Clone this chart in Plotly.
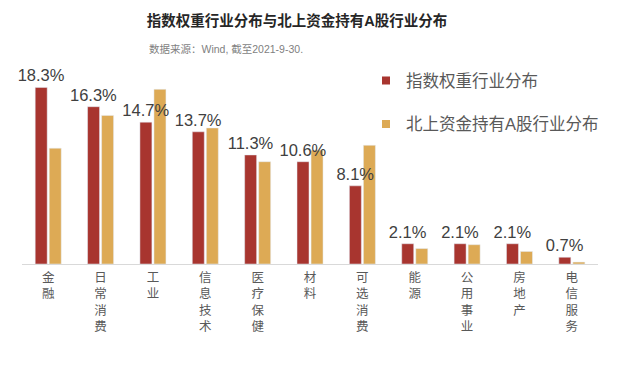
import plotly.graph_objects as go

categories = ["金融", "日常消费", "工业", "信息技术", "医疗保健", "材料", "可选消费", "能源", "公用事业", "房地产", "电信服务"]
index_weight = [18.3, 16.3, 14.7, 13.7, 11.3, 10.6, 8.1, 2.1, 2.1, 2.1, 0.7]
northbound = [12.0, 15.4, 18.1, 14.1, 10.6, 11.8, 12.3, 1.6, 2.0, 1.3, 0.2]
series_names = ["指数权重行业分布", "北上资金持有A股行业分布"]
title_text = "指数权重行业分布与北上资金持有A股行业分布"
subtitle_text = "数据来源：Wind, 截至2021-9-30."

RED = "#A8352F"
GOLD = "#DDAA55"
FONT = "Liberation Sans, Noto Sans CJK SC, sans-serif"

tick_text = ["<br>".join(list(c)) for c in categories]

fig = go.Figure()
# gold first so that the red series' value labels are drawn on top
fig.add_trace(go.Bar(
    x=categories, y=northbound, name=series_names[1],
    marker=dict(color=GOLD), showlegend=False, cliponaxis=False,
    offset=0.02, width=0.229,
))
fig.add_trace(go.Bar(
    x=categories, y=index_weight, name=series_names[0],
    marker=dict(color=RED), showlegend=False,
    offset=-0.248, width=0.229,
    text=[f"{v:.1f}%" for v in index_weight], textposition="outside",
    textfont=dict(size=16.5, color="#404040", family=FONT),
    constraintext="none", cliponaxis=False,
))
# legend entries with small square symbols
for i, (name, col) in enumerate(zip(series_names, [RED, GOLD])):
    fig.add_trace(go.Scatter(
        x=[None], y=[None], mode="markers", name=name, legendgroup=f"g{i}",
        marker=dict(symbol="square", size=8, color=col),
    ))

fig.update_layout(
    width=640, height=376,
    margin=dict(l=22, r=42, t=71, b=112, autoexpand=False),
    paper_bgcolor="white", plot_bgcolor="white",
    barmode="overlay",
    font=dict(family=FONT, color="#595959"),
    title=dict(text=f"<b>{title_text}</b>", x=297/640, xanchor="center",
               y=1 - 21/376, yanchor="middle", yref="container",
               font=dict(size=14.5, color="#262626", family=FONT)),
    legend=dict(x=(366-22)/576, xanchor="left", y=1.04, yanchor="top",
                font=dict(size=16.5, color="#595959", family=FONT),
                tracegroupgap=19, bgcolor="rgba(0,0,0,0)", itemwidth=30),
    showlegend=True,
)
fig.add_annotation(text=subtitle_text, xref="paper", yref="paper",
                   x=(147-22)/576, y=(264-49)/193, xanchor="left", yanchor="middle",
                   showarrow=False, font=dict(size=10.5, color="#7F7F7F", family=FONT))
fig.update_xaxes(
    tickmode="array", tickvals=categories, ticktext=tick_text,
    tickfont=dict(size=12.5, color="#595959", family=FONT),
    showline=True, linecolor="#D9D9D9", linewidth=1, ticks="",
    showgrid=False, ticklabelstandoff=2, automargin=False,
)
fig.update_yaxes(range=[0, 20], visible=False, showgrid=False, automargin=False)

fig.write_html("out.html", config={"displayModeBar": False},
               post_script="document.body.style.margin='0';")
